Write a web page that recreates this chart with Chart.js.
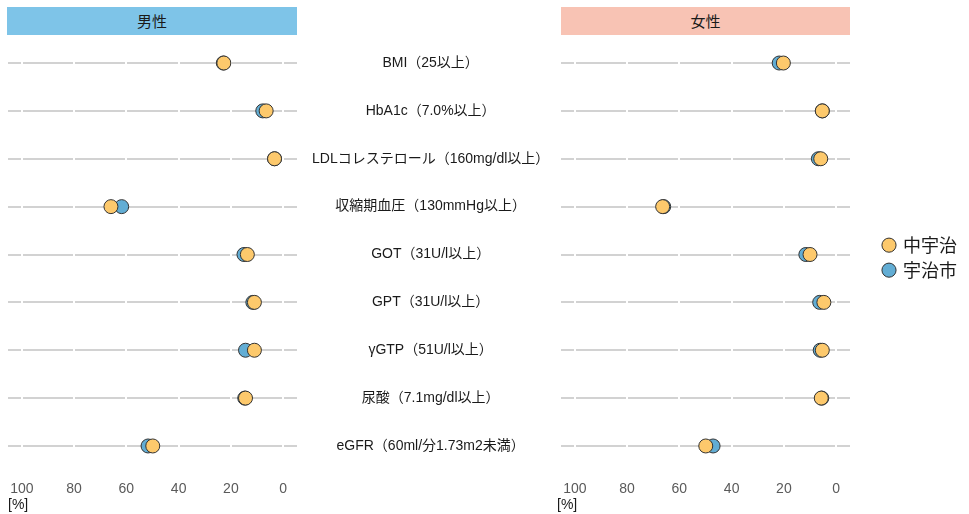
<!DOCTYPE html>
<html><head><meta charset="utf-8">
<script src="https://cdn.jsdelivr.net/npm/chart.js@4"></script>
<style>
html,body{margin:0;padding:0;background:#fff;}
#wrap{position:relative;width:969px;height:514px;overflow:hidden;font-family:'Liberation Sans','Noto Sans CJK JP',sans-serif;}
.strip{position:absolute;top:7px;height:28px;line-height:28px;text-align:center;font-size:15px;color:#1a1a1a;font-family:'Noto Sans CJK JP',sans-serif;}
.unit{position:absolute;top:496px;font-size:14px;color:#1a1a1a;}
.box{position:absolute;top:0;height:514px;}
</style></head>
<body>
<div id="wrap">
  <div class="box" style="left:0;width:561px;"><canvas id="male"></canvas></div>
  <div class="box" style="left:553px;width:416px;"><canvas id="female"></canvas></div>
  <div class="strip" style="left:7px;width:290px;background:#7EC4E8;">男性</div>
  <div class="strip" style="left:561px;width:289px;background:#F8C3B4;">女性</div>
  <div class="unit" style="left:8px;">[%]</div>
  <div class="unit" style="left:557px;">[%]</div>
</div>
<script>
const categories = ['BMI（25以上）','HbA1c（7.0%以上）','LDLコレステロール（160mg/dl以上）','収縮期血圧（130mmHg以上）','GOT（31U/l以上）','GPT（31U/l以上）','γGTP（51U/l以上）','尿酸（7.1mg/dl以上）','eGFR（60ml/分1.73m2未満）'];
const seriesNames = ['中宇治','宇治市'];
const tickValues = [0,20,40,60,80,100];
const maleNakaUji   = [22.7, 6.5, 3.3, 65.9, 13.7, 11.0, 11.0, 14.4, 49.9];
const maleUjiCity   = [22.9, 7.8, 3.3, 61.8, 15.0, 11.6, 14.4, 14.7, 51.7];
const femaleNakaUji = [20.2, 5.3, 5.9, 66.4, 10.0, 4.7, 5.3, 5.7, 49.9];
const femaleUjiCity = [21.8, 5.3, 6.8, 66.0, 11.6, 6.3, 6.1, 5.5, 47.1];

const ORANGE = '#FDC96C', BLUE = '#62ADD4', EDGE = '#333333';
Chart.defaults.font.family = "'Liberation Sans','Noto Sans CJK JP',sans-serif";
Chart.defaults.animation = false;

function toPoints(arr){ return arr.map((v,i)=>({x:v, y:i+1})); }
function makeDatasets(a,b){
  return [
    {label:seriesNames[0], data:toPoints(a), backgroundColor:ORANGE, borderColor:EDGE, borderWidth:1, pointRadius:7, pointHoverRadius:7},
    {label:seriesNames[1], data:toPoints(b), backgroundColor:BLUE, borderColor:EDGE, borderWidth:1, pointRadius:7, pointHoverRadius:7}
  ];
}
function xScale(){
  return {
    type:'linear', reverse:true, min:-5.3, max:105.3,
    afterBuildTicks:s=>{ s.ticks = tickValues.map(v=>({value:v})); },
    afterFit:s=>{ s.height = 39.3; },
    grid:{color:'#ffffff', lineWidth:2, drawTicks:false, z:-1},
    border:{display:false},
    ticks:{color:'#5a5a5a', font:{size:14}, padding:6, maxRotation:0}
  };
}
function yScale(showLabels){
  return {
    type:'linear', reverse:true, min:0.4, max:9.6,
    position: showLabels ? 'right' : 'left',
    afterBuildTicks:s=>{ s.ticks = categories.map((c,i)=>({value:i+1})); },
    afterFit:s=>{ s.width = showLabels ? 264 : 0; },
    grid:{color:'#D2D2D2', lineWidth:2, drawTicks:false, z:-2},
    border:{display:false},
    ticks:{display:showLabels, crossAlign:'center', padding:15, color:'#1a1a1a',
      font:{size:14, family:"'Liberation Sans','Noto Sans CJK JP',sans-serif"},
      callback:v=>categories[Math.round(v)-1]}
  };
}

new Chart(document.getElementById('male'), {
  type:'scatter',
  data:{datasets:makeDatasets(maleNakaUji, maleUjiCity)},
  options:{
    responsive:true, maintainAspectRatio:false, events:[],
    layout:{padding:{left:7, top:34.3, right:0, bottom:0}},
    plugins:{legend:{display:false}, tooltip:{enabled:false}},
    scales:{x:xScale(), y:yScale(true)}
  }
});

const legendPlacer = {
  id:'legendPlacer',
  afterInit(chart){
    const lg = chart.legend; const fit = lg.fit.bind(lg);
    lg.fit = function(){ fit(); this.width = 119; };
  },
  afterLayout(chart){
    const lg = chart.legend;
    lg.left += 27; lg.right += 27;
    lg.top -= 16.5; lg.bottom -= 16.5;
  }
};

new Chart(document.getElementById('female'), {
  type:'scatter',
  data:{datasets:makeDatasets(femaleNakaUji, femaleUjiCity)},
  plugins:[legendPlacer],
  options:{
    responsive:true, maintainAspectRatio:false, events:[],
    layout:{padding:{left:0, top:34.3, right:0, bottom:0}},
    plugins:{
      tooltip:{enabled:false},
      legend:{position:'right', align:'center',
        labels:{usePointStyle:true, pointStyle:'circle', boxWidth:10, boxHeight:10, padding:7, color:'#1a1a1a',
          font:{size:18, family:"'Noto Sans CJK JP',sans-serif"}}}
    },
    scales:{x:xScale(), y:yScale(false)}
  }
});
</script>
</body></html>
